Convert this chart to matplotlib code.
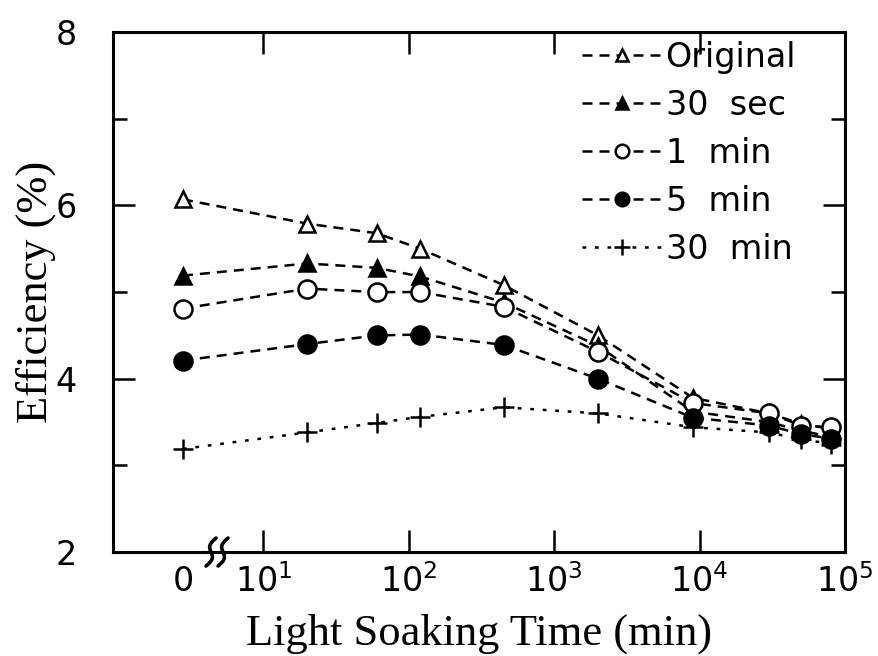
import numpy as np
import matplotlib
matplotlib.use("Agg")
import matplotlib.pyplot as plt

# Light soaking time (min); 0 is drawn left of the axis break
times = [0, 20, 60, 120, 450, 2000, 9000, 30000, 50000, 80000]

eff_original = [6.07, 5.79, 5.68, 5.50, 5.08, 4.50, 3.78, 3.60, 3.48, 3.42]
eff_30sec = [5.19, 5.33, 5.28, 5.18, 4.88, 4.38, 3.62, 3.50, 3.40, 3.33]
eff_1min = [4.81, 5.04, 5.00, 5.00, 4.83, 4.31, 3.72, 3.60, 3.46, 3.44]
eff_5min = [4.21, 4.40, 4.50, 4.51, 4.39, 4.00, 3.55, 3.46, 3.36, 3.31]
eff_30min = [3.19, 3.38, 3.49, 3.56, 3.67, 3.60, 3.44, 3.38, 3.30, 3.25]

labels = ["Original", "30  sec", "1  min", "5  min", "30  min"]
xtick_labels = ["0", r"$\mathregular{10^{1}}$", r"$\mathregular{10^{2}}$",
                r"$\mathregular{10^{3}}$", r"$\mathregular{10^{4}}$",
                r"$\mathregular{10^{5}}$"]

ZERO_POS = 2.8     # where t=0 sits on the log axis
BREAK_POS = 4.8    # axis break marks
XMIN, XMAX = 10 ** -0.034, 10 ** 5.0

sans = "DejaVu Sans"
serif = "Liberation Serif"

fig = plt.figure(figsize=(8.79, 6.56), dpi=100)
ax = fig.add_axes([0.1286, 0.1585, 0.8327, 0.7925])

xs = [ZERO_POS if t == 0 else t for t in times]

dash = (0, (4, 2.8))
dot = (0, (1.5, 3.5))
styles = [
    (eff_original, "^", "white", dash),
    (eff_30sec, "^", "black", dash),
    (eff_1min, "o", "white", dash),
    (eff_5min, "o", "black", dash),
    (eff_30min, "+", "black", dot),
]
for (vals, mk, fc, ls), lab in zip(styles, labels):
    ms = 15 if mk == "+" else (13 if mk == "o" else 12)
    ax.plot(xs, vals, linestyle=ls, color="black", lw=1.8, marker=mk,
            markersize=ms, markerfacecolor=fc, markeredgecolor="black",
            markeredgewidth=1.8, label=lab)

ax.set_xscale("log")
ax.set_xlim(XMIN, XMAX)
ax.set_ylim(2, 8)

ax.set_xticks([ZERO_POS, 10, 100, 1000, 10000, 100000])
ax.set_xticklabels(xtick_labels)
ax.xaxis.set_minor_locator(matplotlib.ticker.NullLocator())
ax.set_yticks([2, 4, 6, 8])
ax.set_yticks([3, 5, 7], minor=True)

ax.tick_params(axis="both", which="major", direction="in", length=16,
               width=1.8, top=True, right=True, labelsize=24)
ax.tick_params(axis="x", which="major", pad=9)
ax.tick_params(axis="y", which="major", pad=26)
ax.tick_params(axis="y", which="minor", direction="in", length=10,
               width=1.8, right=True)
for lbl in ax.get_xticklabels() + ax.get_yticklabels():
    lbl.set_family(sans)
# no tick mark at zero or at the right edge
for tk in (ax.xaxis.get_major_ticks()[0], ax.xaxis.get_major_ticks()[-1]):
    tk.tick1line.set_visible(False)
    tk.tick2line.set_visible(False)

for sp in ax.spines.values():
    sp.set_linewidth(2.2)

ax.set_xlabel("Light Soaking Time (min)", family=serif, fontsize=32, labelpad=10)
ax.set_ylabel("Efficiency (%)", family=serif, fontsize=32, labelpad=0)

# axis break squiggles (built in pixels, drawn in axes fraction)
bbox = ax.get_window_extent()
x0 = (np.log10(BREAK_POS) - np.log10(XMIN)) / (np.log10(XMAX) - np.log10(XMIN))
t = np.linspace(-1, 1, 40)
for shift in (-6, 6):
    dx = shift + 5 * t - 3.5 * np.sin(np.pi * t)
    dy = 14 * t
    ax.plot(x0 + dx / bbox.width, dy / bbox.height, color="black", lw=2.6,
            transform=ax.transAxes, clip_on=False, solid_capstyle="round")

leg = ax.legend(loc="upper right", bbox_to_anchor=(0.965, 1.028), frameon=False,
                prop={"family": sans, "size": 24}, handlelength=2.4,
                handletextpad=0.1, labelspacing=0.45, markerscale=0.75,
                borderaxespad=0.3)

fig.savefig("out.png", dpi=100)
